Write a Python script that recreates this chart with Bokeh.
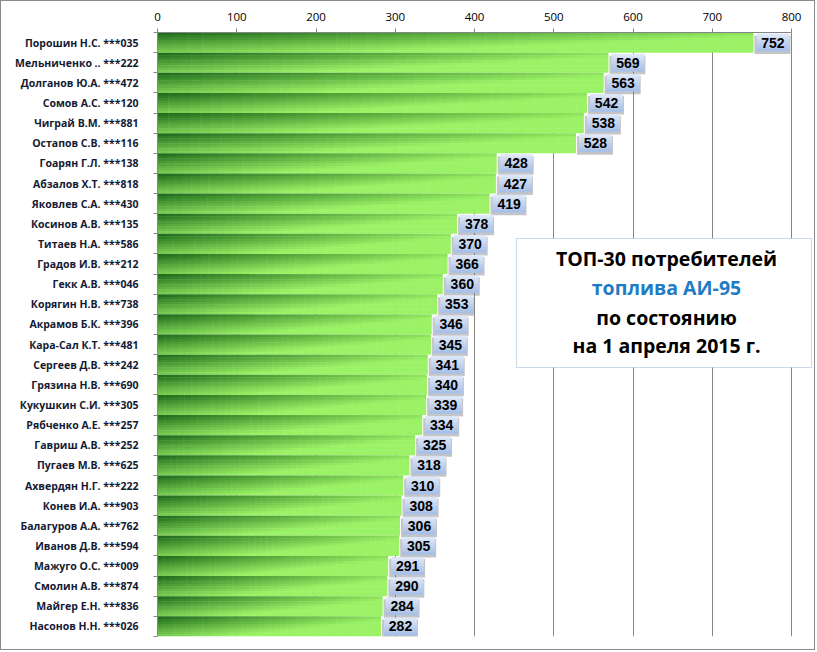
import numpy as np
from bokeh.plotting import figure
from bokeh.models import Range1d, FixedTicker, Label, BoxAnnotation, ColumnDataSource
from bokeh.embed import file_html
from bokeh.resources import INLINE
from bokeh.core.properties import value

names = [
    "Порошин Н.С. ***035", "Мельниченко .. ***222", "Долганов Ю.А. ***472",
    "Сомов А.С. ***120", "Чиграй В.М. ***881", "Остапов С.В. ***116",
    "Гоарян Г.Л. ***138", "Абзалов Х.Т. ***818", "Яковлев С.А. ***430",
    "Косинов А.В. ***135", "Титаев Н.А. ***586", "Градов И.В. ***212",
    "Гекк А.В. ***046", "Корягин Н.В. ***738", "Акрамов Б.К. ***396",
    "Кара-Сал К.Т. ***481", "Сергеев Д.В. ***242", "Грязина Н.В. ***690",
    "Кукушкин С.И. ***305", "Рябченко А.Е. ***257", "Гавриш А.В. ***252",
    "Пугаев М.В. ***625", "Ахвердян Н.Г. ***222", "Конев И.А. ***903",
    "Балагуров А.А. ***762", "Иванов Д.В. ***594", "Мажуго О.С. ***009",
    "Смолин А.В. ***874", "Майгер Е.Н. ***836", "Насонов Н.Н. ***026",
]
values = [752, 569, 563, 542, 538, 528, 428, 427, 419, 378, 370, 366, 360, 353,
          346, 345, 341, 340, 339, 334, 325, 318, 310, 308, 306, 305, 291, 290,
          284, 282]
x_ticks = [0, 100, 200, 300, 400, 500, 600, 700, 800]
title_lines = ["ТОП-30 потребителей", "топлива АИ-95", "по состоянию", "на 1 апреля 2015 г."]

W, H = 815, 650
ML, MT, MB = 156, 31, 15
XMAX = 800
k = 634 / XMAX         # px per x unit
EXTRA = 22             # px of frame beyond the 800 gridline (room for title box)
FW = 634 + EXTRA
MR = W - ML - FW
FH = H - MT - MB
n = len(values)
rh = FH / n            # px per row

p = figure(width=W, height=H, output_backend="svg", toolbar_location=None,
           x_range=Range1d(0, XMAX + EXTRA / k), y_range=Range1d(n, 0),
           x_axis_location="above", min_border_left=ML, min_border_right=MR,
           min_border_top=MT, min_border_bottom=MB, outline_line_color=None)
p.styles = {"border": "1px solid #8a8a8a"}

# grid
p.ygrid.visible = False
p.xgrid.ticker = FixedTicker(ticks=x_ticks)
p.xgrid.grid_line_color = "#868686"
p.xgrid.grid_line_width = 1

# top axis
xa = p.xaxis[0]
xa.ticker = FixedTicker(ticks=x_ticks)
xa.bounds = (0, XMAX)
xa.axis_line_color = "#868686"
xa.major_tick_line_color = "#868686"
xa.major_tick_out = 4
xa.major_tick_in = 0
xa.minor_tick_line_color = None
xa.major_label_text_font = "Open Sans"
xa.major_label_text_font_size = "11.5px"
xa.major_label_text_color = "#000000"
xa.major_label_standoff = 8

# left axis with category labels
ya = p.yaxis[0]
centers = [i + 0.5 for i in range(n)]
ya.ticker = FixedTicker(ticks=centers, minor_ticks=list(range(n + 1)))
ya.major_label_overrides = {c: nm for c, nm in zip(centers, names)}
ya.axis_line_color = "#868686"
ya.major_tick_line_color = None
ya.major_tick_out = 0
ya.major_tick_in = 0
ya.minor_tick_line_color = "#868686"
ya.minor_tick_out = 4
ya.minor_tick_in = 0
ya.major_label_text_font = "Open Sans"
ya.major_label_text_font_style = "bold"
ya.major_label_text_font_size = "10.5px"
ya.major_label_text_color = "#141a33"
ya.major_label_standoff = 15

# gradient bars (diagonal: dark top-left -> bright bottom-right)
dark = np.array([0x17, 0x63, 0x17], float)
bright = np.array([0x9c, 0xf2, 0x66], float)
NU, NV = 40, 8
L, R, T, B, C = [], [], [], [], []
ox = 0.5 / k
oy = 0.5 / rh
for i, v in enumerate(values):
    for a in range(NV):
        for b in range(NU):
            u = (b + 0.5) / NU
            w = (a + 0.5) / NV
            t = min(1.0, 0.85 * u + 0.72 * w) ** 0.9
            col = dark + (bright - dark) * t
            L.append(v * b / NU)
            R.append(v * (b + 1) / NU + (ox if b < NU - 1 else 0))
            T.append(i + a / NV)
            B.append(i + (a + 1) / NV + (oy if a < NV - 1 else 0))
            C.append("#%02x%02x%02x" % tuple(int(round(c)) for c in col))
p.quad(left=L, right=R, top=T, bottom=B, fill_color=C, line_color=None)

# value label boxes
box_l = [v + 3 / k for v in values]
box_r = [v + 36 / k for v in values]
box_t = [i + 0.5 - 9 / rh for i in range(n)]
box_b = [i + 0.5 + 9 / rh for i in range(n)]
p.quad(left=[x - 2 / k for x in box_l], right=[x + 1 / k for x in box_r],
       top=[y + 2 / rh for y in box_t], bottom=[y + 2.5 / rh for y in box_b],
       fill_color="#7f7f7f", fill_alpha=0.45, line_color=None)
top_c = np.array([0xe2, 0xea, 0xf8], float)
bot_c = np.array([0xa4, 0xbc, 0xe5], float)
NS = 6
BL, BR, BT, BB, BC = [], [], [], [], []
for i in range(n):
    h = box_b[i] - box_t[i]
    for s in range(NS):
        col = top_c + (bot_c - top_c) * (s + 0.5) / NS
        BL.append(box_l[i]); BR.append(box_r[i])
        BT.append(box_t[i] + h * s / NS)
        BB.append(box_t[i] + h * (s + 1) / NS + (0.5 / rh if s < NS - 1 else 0))
        BC.append("#%02x%02x%02x" % tuple(int(round(c)) for c in col))
p.quad(left=BL, right=BR, top=BT, bottom=BB, fill_color=BC, line_color=None)

src = ColumnDataSource(dict(x=[v + 19.5 / k for v in values], y=centers,
                            t=[str(v) for v in values]))
p.text(x="x", y="y", text="t", source=src, text_align="center",
       text_baseline="middle", text_font=value("Liberation Sans"),
       text_font_style="bold", text_font_size="14px", text_color="#000000")

# title box
tb_left = (516 - 157) / k
tb_right = XMAX + (EXTRA - 2) / k
tb_top = (238 - 32) / rh
tb_bot = (367 - 32) / rh
p.add_layout(BoxAnnotation(left=tb_left, right=tb_right, top=tb_top, bottom=tb_bot,
                           fill_color="white", fill_alpha=1.0,
                           line_color="#4f81bd", line_width=1))
tx = (666 - 157) / k
line_px = [258, 287, 317, 345]
colors = ["#000000", "#1f7bc4", "#000000", "#000000"]
for txt, ypx, col in zip(title_lines, line_px, colors):
    p.add_layout(Label(x=tx, y=(ypx - 32) / rh, text=txt, text_align="center",
                       text_baseline="middle", text_font="Open Sans",
                       text_font_style="bold", text_font_size="19.5px",
                       text_color=col))

open("out.html", "w").write(file_html(p, INLINE))
